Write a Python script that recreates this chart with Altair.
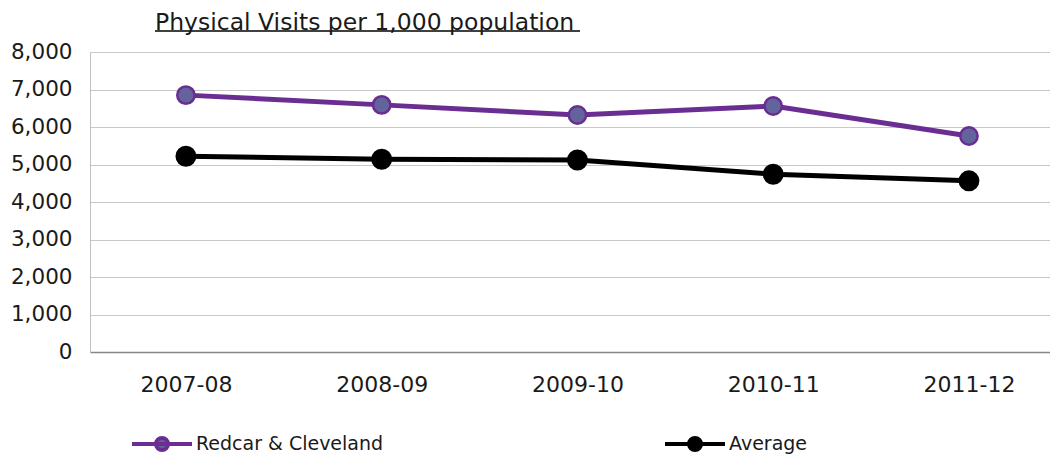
import altair as alt
import pandas as pd

years = ["2007-08", "2008-09", "2009-10", "2010-11", "2011-12"]
redcar = [6850, 6590, 6320, 6560, 5760]
average = [5220, 5140, 5120, 4740, 4565]
series_names = ["Redcar & Cleveland", "Average"]

line_colors = ["#6A2D91", "#000000"]
fill_colors = ["#63649B", "#000000"]

rows = []
for i, y in enumerate(years):
    rows.append({"idx": i, "year": y, "series": series_names[0], "value": redcar[i]})
    rows.append({"idx": i, "year": y, "series": series_names[1], "value": average[i]})
df = pd.DataFrame(rows)

FONT = "DejaVu Sans"
label_expr = "[" + ",".join("'%s'" % y for y in years) + "][datum.value]"

x_enc = alt.X("idx:Q", title=None,
              scale=alt.Scale(domain=[-0.49, 4.414], nice=False, zero=False),
              axis=alt.Axis(values=list(range(len(years))), labelExpr=label_expr,
                            labelAngle=0, ticks=False, grid=False, labelPadding=22,
                            labelFontSize=22, labelFont=FONT, labelColor="#1a1a1a",
                            domainColor="#868686", domainWidth=1.5))
y_enc = alt.Y("value:Q", title=None,
              scale=alt.Scale(domain=[0, 8000], nice=False),
              axis=alt.Axis(values=list(range(0, 8001, 1000)), format=",d", ticks=False,
                            labelPadding=18, labelFontSize=21.5, labelFont=FONT,
                            labelColor="#1a1a1a", gridColor="#C8C8C8", gridWidth=1,
                            domainColor="#BFBFBF"))

legend = alt.Legend(title=None, orient="none", legendX=40, legendY=360,
                    direction="horizontal",
                    symbolType="M-1,0L1,0M-0.2,0A0.2,0.2,0,1,1,0.2,0A0.2,0.2,0,1,1,-0.2,0Z",
                    symbolSize=3600, symbolStrokeWidth=4,
                    labelFontSize=19, labelFont=FONT, labelColor="#1a1a1a",
                    labelLimit=400, labelOffset=2, columnPadding=273)

# reversed domain order for the line colour / size scales keeps them from merging
# with (and disabling) the fill/stroke legend
rev_names = series_names[::-1]

lines = alt.Chart(df).mark_line(strokeWidth=5).encode(
    x=x_enc, y=y_enc,
    color=alt.Color("series:N", scale=alt.Scale(domain=rev_names, range=line_colors[::-1]), legend=None),
    detail="series:N",
)

points = alt.Chart(df).mark_point(filled=True, strokeWidth=2.5, opacity=1).encode(
    x=x_enc, y=y_enc,
    fill=alt.Fill("series:N", scale=alt.Scale(domain=series_names, range=fill_colors), legend=legend),
    stroke=alt.Stroke("series:N", scale=alt.Scale(domain=series_names, range=line_colors), legend=legend),
    size=alt.Size("series:N", scale=alt.Scale(domain=rev_names, range=[340, 300]), legend=None),
)

underline = alt.Chart(pd.DataFrame({"a": [0]})).mark_rule(color="#000000", strokeWidth=1.5).encode(
    x=alt.value(65), x2=alt.value(490), y=alt.value(-21)
)

chart = alt.layer(lines, points, underline).properties(
    width=960, height=300,
    title=alt.TitleParams("Physical Visits per 1,000 population", anchor="start", dx=65,
                          fontSize=23.5, font=FONT, fontWeight="normal", color="#1a1a1a",
                          frame="group", offset=-4),
    autosize=alt.AutoSizeParams(type="none"),
    padding={"left": 82, "top": 44, "right": 0, "bottom": 102},
).configure_view(stroke=None)

chart.save("out.html", embed_options={"renderer": "svg", "actions": False})
